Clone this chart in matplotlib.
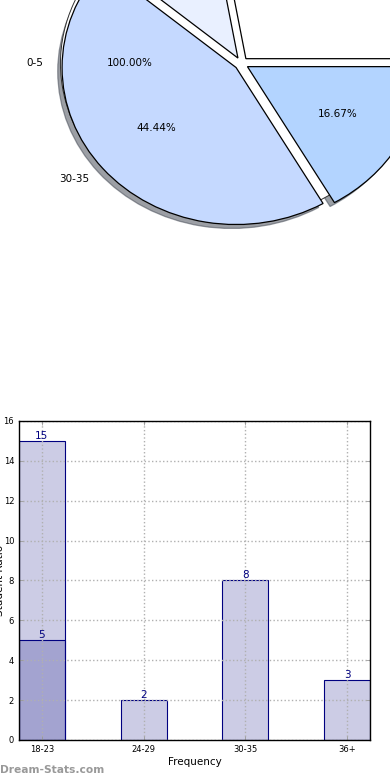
import matplotlib
matplotlib.use("Agg")
import matplotlib.pyplot as plt
import matplotlib.patches as mpatches
import numpy as np

# ---- data ----
pie_labels = ["18-23", "24-29", "30-35", "36+"]
pie_values = [5, 2, 8, 3]
pie_colors = ["#ffffff", "#e9f0ff", "#c5d9ff", "#b3d4ff"]
pie2_labels = ["0-5"]
pie2_values = [5]

categories = ["18-23", "24-29", "30-35", "36+"]
series1 = [15, 2, 8, 3]
series2 = [5]

plt.rcParams['font.family'] = ['DejaVu Sans']

fig = plt.figure(figsize=(3.9, 7.8), dpi=100)

# ---- pie ----
axp = fig.add_axes([0.0613, 0.667, 1.1154, 0.5032])
axp.pie(pie_values, labels=pie_labels, colors=pie_colors, explode=[0.04] * 4,
        autopct='%.2f%%', startangle=0, shadow={'ox': -0.018, 'oy': -0.018},
        wedgeprops=dict(edgecolor='black', linewidth=0.9, zorder=2),
        textprops=dict(fontsize=7.5))
for p in axp.patches:
    if isinstance(p, mpatches.Shadow):
        p.set_zorder(0.5)
axp.pie(pie2_values, labels=pie2_labels, explode=[0.04], autopct='%.2f%%',
        startangle=0, colors=['white'],
        wedgeprops=dict(edgecolor='#333333', linewidth=0.7, zorder=1),
        textprops=dict(fontsize=7.5))
axp.set_aspect('auto')
axp.set_xlim(-1.25, 1.25)
axp.set_ylim(-1.25, 1.25)
axp.set_axis_off()

# ---- bars ----
ax = fig.add_axes([0.0487, 0.0513, 0.9, 0.409])
w = 0.45
x1 = np.arange(len(series1))
x2 = np.arange(len(series2))
fc = (0, 0, 0.5, 0.2)
ax.bar(x1, series1, width=w, align='edge', facecolor=fc, edgecolor='navy', linewidth=0.8)
ax.bar(x2, series2, width=w, align='edge', facecolor=fc, edgecolor='navy', linewidth=0.8)
for xs, vals in ((x1, series1), (x2, series2)):
    for xi, v in zip(xs, vals):
        ax.text(xi + w / 2, v, str(v), ha='center', va='bottom', color='navy', fontsize=7.5)

ax.set_xlim(0, len(categories) - 1 + w)
ax.set_ylim(0, 16)
ax.set_yticks(np.arange(0, 17, 2))
ax.set_xticks(np.arange(len(categories)) + w / 2)
ax.set_xticklabels(categories)
ax.tick_params(direction='in', top=True, right=True, length=3, width=0.6,
               color='#999999', labelsize=6)
ax.set_axisbelow(False)
ax.grid(True, linestyle=':', color='#b0b0b0', linewidth=1)
ax.set_xlabel('Frequency', fontsize=7.5, labelpad=2)
ax.set_ylabel('Student Ratio', fontsize=7.5)
ax.yaxis.set_label_coords(-0.04, 0.5)
for s in ax.spines.values():
    s.set_linewidth(1)
    s.set_zorder(5)

fig.text(0.0, 0.0128, 'Dream-Stats.com', color='#999999', fontsize=7.7,
         fontweight='bold', ha='left', va='center')

fig.savefig('out.png', dpi=100)
